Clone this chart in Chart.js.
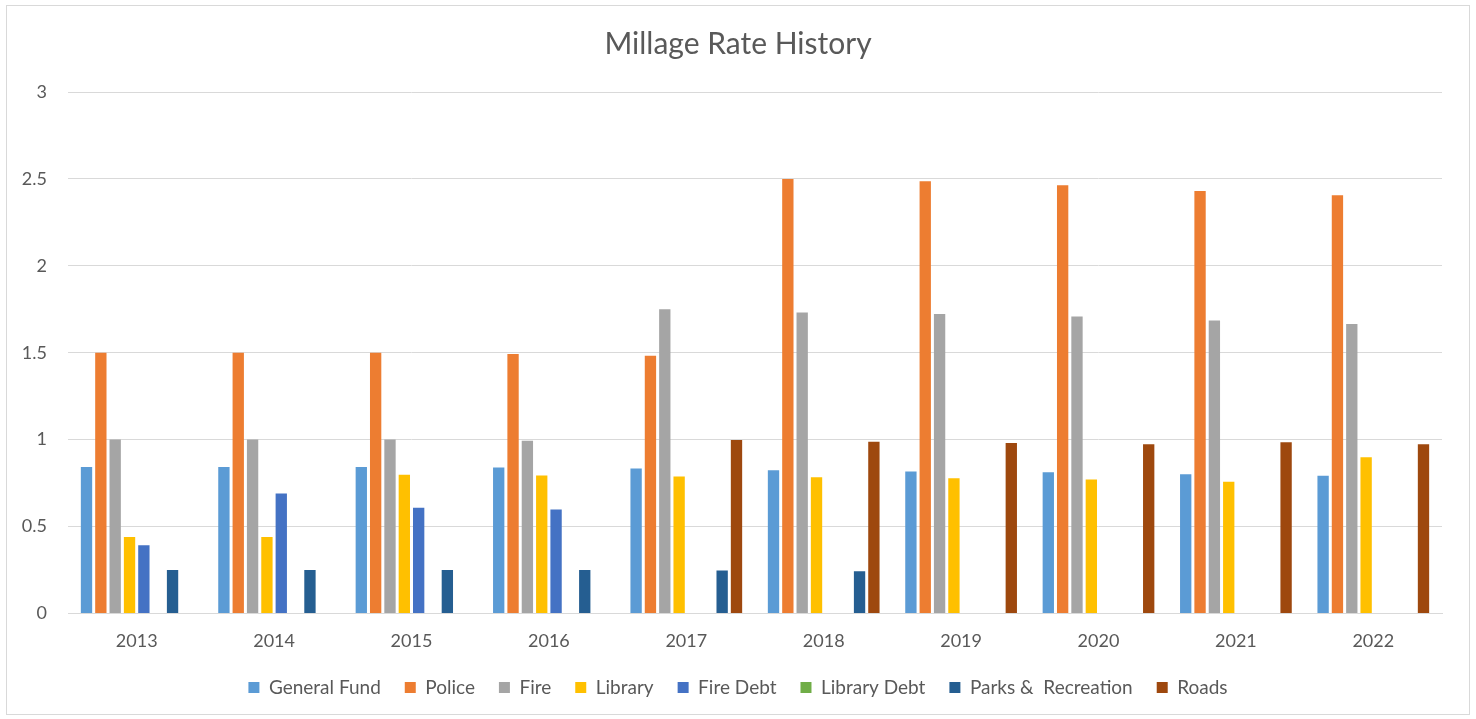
<!DOCTYPE html>
<html>
<head>
  <meta charset="UTF-8">
  <title>Millage Rate History</title>
  <script src="https://cdn.jsdelivr.net/npm/chart.js"></script>
  <style>
    body {
      margin: 0;
      background: #ffffff;
      font-family: Lato, sans-serif;
    }
    .frame {
      position: absolute;
      left: 6px;
      top: 5px;
      width: 1462px;
      height: 708px;
      border: 1px solid #d9d9d9;
    }
    canvas {
      position: absolute;
      left: 0;
      top: 0;
    }
  </style>
</head>
<body>
  <div class="frame"></div>
  <canvas id="millageChart" width="1476" height="719"></canvas>

  <script>
    // data
    const years = ['2013', '2014', '2015', '2016', '2017', '2018', '2019', '2020', '2021', '2022'];
    const generalFund = [0.842, 0.842, 0.842, 0.840, 0.833, 0.823, 0.817, 0.812, 0.800, 0.792];
    const police      = [1.5, 1.5, 1.5, 1.492, 1.483, 2.5, 2.487, 2.463, 2.431, 2.406];
    const fire        = [1.0, 1.0, 1.0, 0.994, 1.75, 1.731, 1.722, 1.708, 1.685, 1.665];
    const library     = [0.44, 0.44, 0.798, 0.794, 0.788, 0.783, 0.777, 0.771, 0.758, 0.898];
    const fireDebt    = [0.392, 0.69, 0.608, 0.598, 0, 0, 0, 0, 0, 0];
    const libraryDebt = [0, 0, 0, 0, 0, 0, 0, 0, 0, 0];
    const parksRec    = [0.25, 0.25, 0.25, 0.25, 0.247, 0.243, 0, 0, 0, 0];
    const roads       = [0, 0, 0, 0, 0.998, 0.987, 0.981, 0.973, 0.985, 0.973];

    const textColor = '#595959';
    const gridColor = '#d9d9d9';

    function makeSet(label, data, color) {
      return {
        label: label,
        data: data,
        backgroundColor: color,
        borderWidth: 0,
        categoryPercentage: 0.835,
        barPercentage: 0.79
      };
    }

    const ctx = document.getElementById('millageChart').getContext('2d');
    const millageChart = new Chart(ctx, {
      type: 'bar',
      data: {
        labels: years,
        datasets: [
          makeSet('General Fund', generalFund, '#5B9BD5'),
          makeSet('Police', police, '#ED7D31'),
          makeSet('Fire', fire, '#A5A5A5'),
          makeSet('Library', library, '#FFC000'),
          makeSet('Fire Debt', fireDebt, '#4472C4'),
          makeSet('Library Debt', libraryDebt, '#70AD47'),
          makeSet('Parks &  Recreation', parksRec, '#255E91'),
          makeSet('Roads', roads, '#9E480E')
        ]
      },
      options: {
        responsive: false,
        animation: false,
        devicePixelRatio: 1,
        layout: {
          padding: { left: 1, right: 1, top: 0, bottom: 12 }
        },
        scales: {
          x: {
            grid: { display: false, drawTicks: false },
            border: { color: gridColor, width: 1 },
            ticks: {
              color: textColor,
              font: { family: 'Lato', size: 18 },
              padding: 17
            },
            // let the axis sit lower, into the legend's empty top space
            afterFit: function (scale) {
              scale.height -= 15;
            }
          },
          y: {
            min: 0,
            max: 3,
            grid: { color: gridColor, lineWidth: 1, drawTicks: false },
            border: { display: false },
            ticks: {
              stepSize: 0.5,
              color: textColor,
              font: { family: 'Lato', size: 18 },
              padding: 21,
              callback: function (value) {
                return String(value);
              }
            },
            afterFit: function (scale) {
              scale.width = 67;
            }
          },
          // empty axis, only keeps a blank margin right of the plot
          yRight: {
            position: 'right',
            grid: { display: false, drawTicks: false },
            border: { display: false },
            ticks: { display: false },
            afterFit: function (scale) {
              scale.width = 33;
            }
          }
        },
        plugins: {
          title: {
            display: true,
            text: 'Millage Rate History',
            color: textColor,
            font: { family: 'Lato', size: 30, weight: 'normal' },
            padding: { top: 26, bottom: 30 }
          },
          legend: {
            display: true,
            position: 'bottom',
            labels: {
              color: textColor,
              font: { family: 'Lato', size: 19 },
              boxWidth: 11,
              boxHeight: 11,
              padding: 24
            }
          },
          tooltip: { enabled: false }
        }
      }
    });
  </script>
</body>
</html>
